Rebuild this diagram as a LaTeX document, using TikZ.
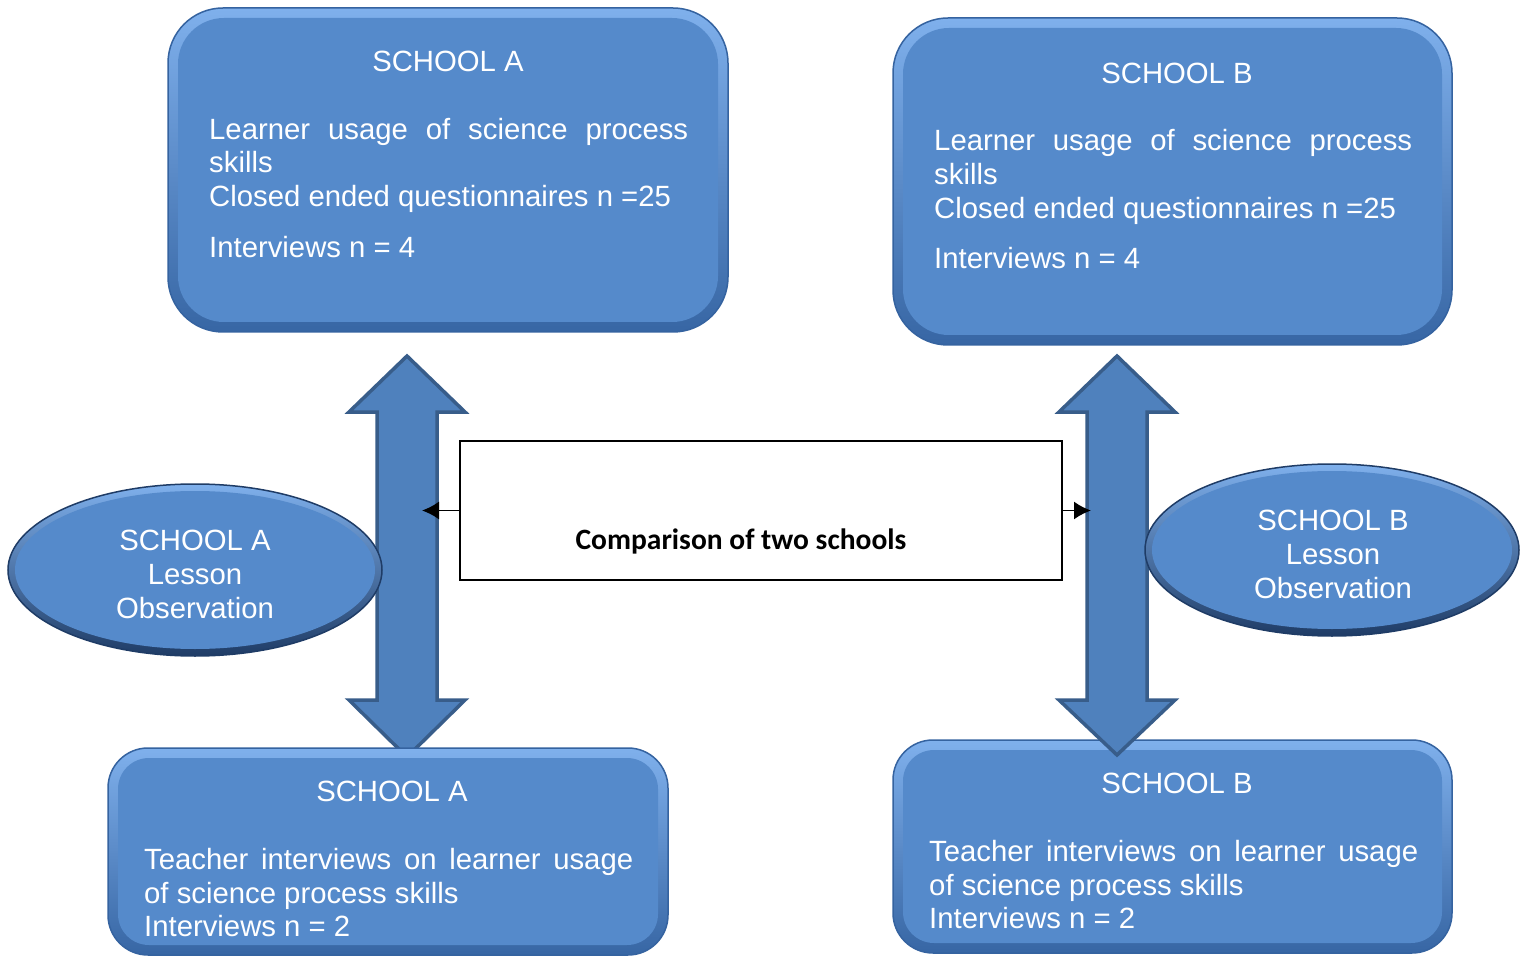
\documentclass[tikz,border=0pt]{standalone}
\usepackage{fontspec}
\setmainfont{Liberation Sans}
\newfontfamily\calib{Carlito}
\usetikzlibrary{arrows.meta,shapes.geometric}
\definecolor{mainblue}{HTML}{558ACB}
\definecolor{edgelight}{HTML}{7FB0EC}
\definecolor{edgedark}{HTML}{3766A4}
\definecolor{rimline}{HTML}{3563A0}
\definecolor{ellrim}{HTML}{1F3C66}
\definecolor{arrowfill}{HTML}{4F81BD}
\definecolor{arrowline}{HTML}{385D8A}
\tikzset{
  bevelbig/.style={rectangle, rounded corners=55pt, draw=rimline, line width=1.5pt,
    top color=edgelight, bottom color=edgedark, inner sep=0pt,
    path picture={\fill[mainblue, rounded corners=46pt]
      ([shift={(10pt,10pt)}]path picture bounding box.south west) rectangle
      ([shift={(-10pt,-10pt)}]path picture bounding box.north east);}},
  bevelsmall/.style={rectangle, rounded corners=40pt, draw=rimline, line width=1.5pt,
    top color=edgelight, bottom color=edgedark, inner sep=0pt,
    path picture={\fill[mainblue, rounded corners=31pt]
      ([shift={(10pt,10pt)}]path picture bounding box.south west) rectangle
      ([shift={(-10pt,-10pt)}]path picture bounding box.north east);}},
  bevelell/.style={ellipse, draw=ellrim, line width=1.5pt, inner sep=0pt,
    top color=edgelight, bottom color=ellrim,
    path picture={\fill[mainblue] (path picture bounding box.center)
      ellipse [x radius=180pt, y radius=79pt];}},
  blockarrow/.style={fill=arrowfill, draw=arrowline, line width=3.5pt, line join=miter},
  txt/.style={inner sep=0pt, text=white, font=\fontsize{29.3}{34}\selectfont, anchor=base west},
  ttl/.style={inner sep=0pt, text=white, font=\fontsize{29.3}{34}\selectfont, anchor=base},
  cmpbox/.style={draw=black, line width=1.6pt, fill=white, inner sep=0pt},
  smallarrow/.style={-{Latex[length=17pt,width=18pt]}, line width=1.8pt, black},
}
\begin{document}
\begin{tikzpicture}[x=1pt,y=1pt]
\useasboundingbox (0,0) rectangle (1523,-957);
\fill[white] (0,0) rectangle (1523,-957);

% top boxes
\node[bevelbig, minimum width=560pt, minimum height=324pt] (boxAtop) at (448,-170) {};
\node[bevelbig, minimum width=559pt, minimum height=327pt] (boxBtop) at (1172.5,-181.5) {};

% left block arrow (behind bottom box A)
\draw[blockarrow] (407,-356) -- (465,-412) -- (437,-412) -- (437,-700) -- (465,-700)
  -- (407,-757) -- (349,-700) -- (377,-700) -- (377,-412) -- (349,-412) -- cycle;

% bottom boxes
\node[bevelsmall, minimum width=560pt, minimum height=207pt] (boxAbot) at (388,-851.5) {};
\node[bevelsmall, minimum width=559pt, minimum height=213pt] (boxBbot) at (1172.5,-846.5) {};

% right block arrow (over bottom box B)
\draw[blockarrow] (1117,-356) -- (1175,-412) -- (1147,-412) -- (1147,-700) -- (1175,-700)
  -- (1117,-755) -- (1059,-700) -- (1087,-700) -- (1087,-412) -- (1059,-412) -- cycle;

% ellipses
\node[bevelell, minimum width=374pt, minimum height=172pt] (ellA) at (195,-570) {};
\node[bevelell, minimum width=374pt, minimum height=172pt] (ellB) at (1332,-550) {};

% comparison box
\node[cmpbox, minimum width=602pt, minimum height=139pt] (cmp) at (761,-510.5) {};
\node[inner sep=0pt, anchor=base, font=\calib\bfseries\fontsize{29.5}{34}\selectfont] (cmptxt) at (741,-549) {Comparison of two schools};
\coordinate (tipA) at (422,-510.5);
\coordinate (tipB) at (1091,-510.5);
\draw[smallarrow] (cmp.west) -- (tipA);
\draw[smallarrow] (cmp.east) -- (tipB);

% texts: top box A
\node[ttl] (tAt) at (448,-72) {SCHOOL A};
\node[txt] (tA1) at (209,-140) {\makebox[479pt][s]{Learner usage of science process}};
\node[txt] (tA2) at (209,-173) {skills};
\node[txt] (tA3) at (209,-207) {Closed ended questionnaires n =25};
\node[txt] (tA4) at (209,-258) {Interviews n = 4};

% texts: top box B
\node[ttl] (tBt) at (1177,-84) {SCHOOL B};
\node[txt] (tB1) at (934,-151) {\makebox[478pt][s]{Learner usage of science process}};
\node[txt] (tB2) at (934,-185) {skills};
\node[txt] (tB3) at (934,-219) {Closed ended questionnaires n =25};
\node[txt] (tB4) at (934,-269) {Interviews n = 4};

% texts: bottom box A
\node[ttl] (bAt) at (392,-801) {SCHOOL A};
\node[txt] (bA1) at (144,-869) {\makebox[489pt][s]{Teacher interviews on learner usage}};
\node[txt] (bA2) at (144,-903) {of science process skills};
\node[txt] (bA3) at (144,-936) {Interviews n = 2};

% texts: bottom box B
\node[ttl] (bBt) at (1177,-793) {SCHOOL B};
\node[txt] (bB1) at (929,-861) {\makebox[489pt][s]{Teacher interviews on learner usage}};
\node[txt] (bB2) at (929,-895) {of science process skills};
\node[txt] (bB3) at (929,-928) {Interviews n = 2};

% texts: ellipses
\node[ttl] (eA1) at (195,-550) {SCHOOL A};
\node[ttl] (eA2) at (195,-584) {Lesson};
\node[ttl] (eA3) at (195,-618) {Observation};
\node[ttl] (eB1) at (1333,-530) {SCHOOL B};
\node[ttl] (eB2) at (1333,-564) {Lesson};
\node[ttl] (eB3) at (1333,-598) {Observation};
\end{tikzpicture}
\end{document}
